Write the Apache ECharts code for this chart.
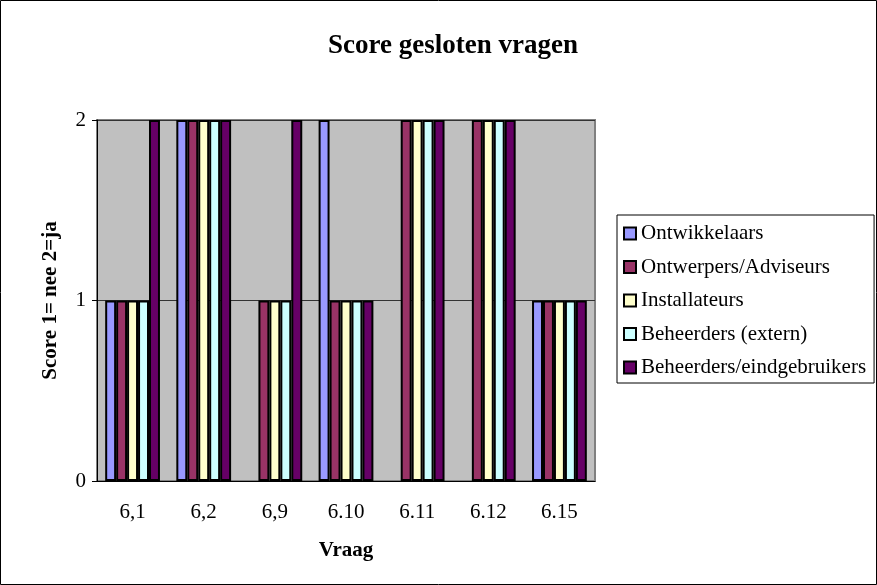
<!DOCTYPE html>
<html>
<head>
<meta charset="utf-8">
<script src="https://cdn.jsdelivr.net/npm/echarts@6/dist/echarts.min.js"></script>
<style>
  html, body { margin: 0; padding: 0; background: #fff; }
  #chart { width: 877px; height: 585px; }
</style>
</head>
<body>
<div id="chart"></div>
<script>
// vragen op de x-as
const categories = ['6,1', '6,2', '6,9', '6.10', '6.11', '6.12', '6.15'];

// scores per groep (null = geen antwoord)
const ontwikkelaars = [1, 2, null, 2, null, null, 1];
const ontwerpers = [1, 2, 1, 1, 2, 2, 1];
const installateurs = [1, 2, 1, 1, 2, 2, 1];
const beheerdersExtern = [1, 2, 1, 1, 2, 2, 1];
const beheerdersEind = [2, 2, 2, 1, 2, 2, 1];

const seriesNames = ['Ontwikkelaars', 'Ontwerpers/Adviseurs', 'Installateurs', 'Beheerders (extern)', 'Beheerders/eindgebruikers'];
const seriesData = [ontwikkelaars, ontwerpers, installateurs, beheerdersExtern, beheerdersEind];
const colors = ['#9999FF', '#993366', '#FFFFCC', '#CCFFFF', '#660066'];

const font = 'Liberation Serif, Times New Roman, serif';

const chart = echarts.init(document.getElementById('chart'), null, { renderer: 'canvas' });

const option = {
  animation: false,
  color: colors,
  title: {
    text: 'Score gesloten vragen',
    left: 448,
    top: 28,
    textAlign: 'center',
    textStyle: {
      fontFamily: font,
      fontSize: 27,
      fontWeight: 'bold',
      color: '#000',
    },
  },
  legend: {
    orient: 'vertical',
    left: 617,
    top: 215,
    padding: [8, 8, 5, 6],
    itemGap: 12.5,
    itemWidth: 12,
    itemHeight: 12,
    icon: 'rect',
    borderColor: '#000',
    borderWidth: 1,
    data: seriesNames,
    textStyle: {
      fontFamily: font,
      fontSize: 21,
      lineHeight: 21,
      color: '#000',
    },
  },
  grid: {
    left: 97,
    top: 120,
    right: 282,
    bottom: 104,
    show: true,
    backgroundColor: '#C0C0C0',
    borderColor: '#808080',
    borderWidth: 2,
  },
  xAxis: {
    type: 'category',
    data: categories,
    name: 'Vraag',
    nameLocation: 'middle',
    nameGap: 59,
    nameTextStyle: {
      fontFamily: font,
      fontSize: 21,
      fontWeight: 'bold',
      color: '#000',
    },
    axisLine: { lineStyle: { color: '#000', width: 1 } },
    axisTick: { length: 5, lineStyle: { color: '#000' } },
    axisLabel: {
      margin: 21,
      fontFamily: font,
      fontSize: 21,
      color: '#000',
    },
  },
  yAxis: {
    type: 'value',
    min: 0,
    max: 2,
    interval: 1,
    name: 'Score 1= nee 2=ja',
    nameLocation: 'middle',
    nameGap: 36,
    nameTextStyle: {
      fontFamily: font,
      fontSize: 21,
      fontWeight: 'bold',
      color: '#000',
    },
    axisLine: { show: true, lineStyle: { color: '#000', width: 1 } },
    axisTick: { show: true, length: 5, lineStyle: { color: '#000' } },
    axisLabel: {
      margin: 11,
      fontFamily: font,
      fontSize: 21,
      color: '#000',
    },
    splitLine: { show: true, lineStyle: { color: '#333', width: 1 } },
  },
  graphic: [{
    type: 'rect',
    shape: { x: 0.5, y: 0.5, width: 876, height: 584 },
    style: { fill: 'none', stroke: '#000', lineWidth: 1 },
    silent: true,
  }],
  series: seriesNames.map((name, i) => ({
    name,
    type: 'bar',
    data: seriesData[i],
    barGap: '0%',
    barCategoryGap: '23%',
    itemStyle: {
      color: colors[i],
      borderColor: '#000',
      borderWidth: 2,
    },
  })),
};

chart.setOption(option);
</script>
</body>
</html>
